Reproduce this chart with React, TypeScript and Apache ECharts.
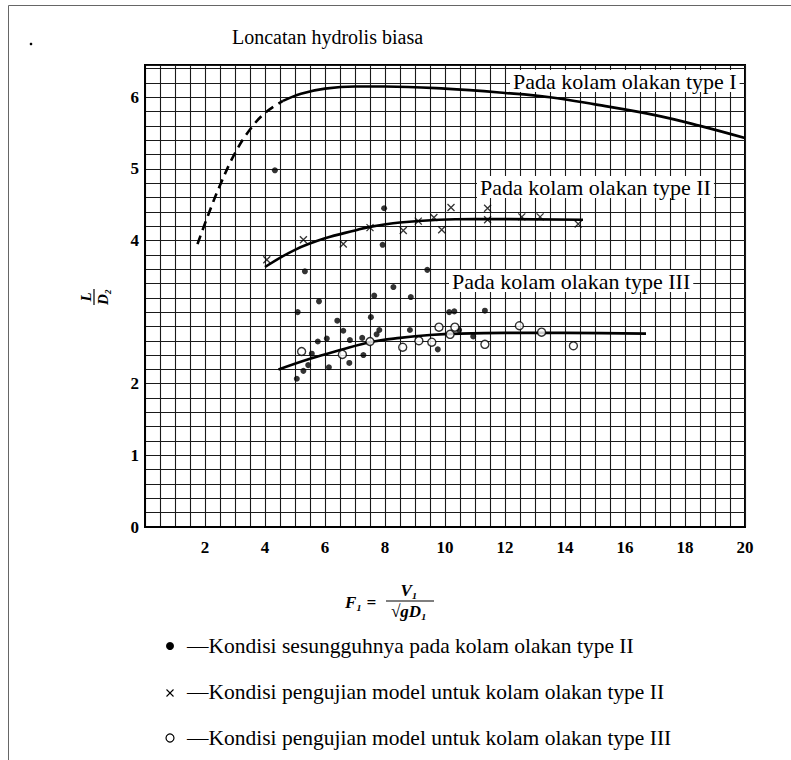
import React, { useEffect, useRef } from "react";
import * as echarts from "echarts";

// ---- data (x = F1, y = L/D2) ----
const typeIDashed: number[][] = [
  [1.75, 3.95], [2.1, 4.35], [2.5, 4.77], [3.0, 5.22], [3.5, 5.55], [4.0, 5.78], [4.6, 5.95],
];
const typeISolid: number[][] = [
  [4.6, 5.95], [5.2, 6.05], [6.0, 6.12], [7.0, 6.15], [8.0, 6.15], [10, 6.12], [12, 6.06],
  [13.5, 6.0], [15, 5.9], [17, 5.75], [18.5, 5.6], [20, 5.43],
];
const typeIICurve: number[][] = [
  [4.0, 3.63], [5, 3.87], [6, 4.03], [7, 4.14], [7.5, 4.19], [8.5, 4.25], [9.8, 4.29],
  [11, 4.3], [14.6, 4.29],
];
const typeIIICurve: number[][] = [
  [4.45, 2.2], [5.5, 2.35], [6.5, 2.47], [7.5, 2.58], [8.5, 2.64], [9.5, 2.68], [10.5, 2.7],
  [12, 2.71], [14, 2.71], [16.7, 2.7],
];
const prototypeDots: number[][] = [
  [4.33, 4.98], [7.97, 4.45], [7.92, 3.94], [5.33, 3.57], [9.41, 3.59], [8.28, 3.35],
  [5.8, 3.15], [7.64, 3.23], [8.86, 3.21], [5.09, 3.0], [10.14, 3.0], [10.31, 3.01],
  [6.41, 2.88], [7.53, 2.93], [6.61, 2.74], [7.81, 2.75], [7.72, 2.69], [8.83, 2.75],
  [6.06, 2.63], [5.76, 2.59], [6.83, 2.61], [7.24, 2.64], [5.56, 2.42], [7.28, 2.4],
  [9.76, 2.48], [10.47, 2.75], [10.94, 2.66], [5.44, 2.26], [6.81, 2.29], [6.13, 2.23],
  [5.28, 2.18], [5.06, 2.07], [11.33, 3.02],
];
const modelII: number[][] = [
  [5.28, 4.01], [4.06, 3.73], [6.61, 3.95], [7.5, 4.18], [8.61, 4.14], [9.11, 4.27],
  [9.63, 4.32], [9.89, 4.15], [10.2, 4.46], [11.42, 4.45], [11.42, 4.29], [12.56, 4.33],
  [13.17, 4.33], [14.44, 4.23],
];
const modelIII: number[][] = [
  [5.22, 2.45], [6.58, 2.41], [7.5, 2.59], [8.59, 2.51], [9.13, 2.6], [9.56, 2.58],
  [9.8, 2.79], [10.17, 2.69], [10.33, 2.79], [11.33, 2.55], [12.48, 2.81], [13.22, 2.72],
  [14.28, 2.53],
];
const xTickLabels = [2, 4, 6, 8, 10, 12, 14, 16, 18, 20];
const yTickLabels = [0, 1, 2, 4, 5, 6];

const titleText = "Loncatan hydrolis biasa";
const curveLabels = [
  "Pada kolam olakan type I",
  "Pada kolam olakan type II",
  "Pada kolam olakan type III",
];
const legendTexts = [
  "—Kondisi sesungguhnya pada kolam olakan type II",
  "—Kondisi pengujian model untuk kolam olakan type II",
  "—Kondisi pengujian model untuk kolam olakan type III",
];

const SERIF = "Liberation Serif";

export default function App() {
  const ref = useRef<HTMLDivElement>(null);
  useEffect(() => {
    if (!ref.current) return;
    const chart = echarts.init(ref.current, undefined, { renderer: "svg" });
    const curveStyle = { color: "#000", width: 2.6 };
    const labelStyle = (t: string) => ({
      text: t,
      fontFamily: SERIF,
      fontSize: 22,
      fill: "#000",
      backgroundColor: "#fff",
      padding: [0, 3, 0, 3],
      verticalAlign: "middle",
    });
    const legendTextStyle = (t: string) => ({
      text: t,
      fontFamily: SERIF,
      fontSize: 21.5,
      fill: "#000",
      verticalAlign: "middle",
    });
    const mathStyle = (t: string, extra: any = {}) => ({
      text: t,
      fontFamily: SERIF,
      fontStyle: "italic",
      fontWeight: "bold",
      fontSize: 17,
      fill: "#000",
      ...extra,
    });
    chart.setOption({
      animation: false,
      backgroundColor: "#fff",
      grid: {
        left: 145,
        right: 46,
        top: 65,
        bottom: 233,
        show: true,
        borderColor: "#000",
        borderWidth: 2,
      },
      xAxis: {
        type: "value",
        min: 0,
        max: 20,
        interval: 0.5,
        axisLine: { show: true, lineStyle: { color: "#000", width: 2 } },
        axisTick: { show: false },
        splitLine: { show: true, lineStyle: { color: "#1a1a1a", width: 1.1 } },
        axisLabel: {
          margin: 12,
          color: "#000",
          fontFamily: SERIF,
          fontWeight: "bold",
          fontSize: 17,
          formatter: (v: number) => (xTickLabels.includes(v) ? String(v) : ""),
        },
      },
      yAxis: {
        type: "value",
        min: 0,
        max: 6.45,
        interval: 0.2,
        axisLine: { show: true, lineStyle: { color: "#000", width: 2 } },
        axisTick: { show: false },
        splitLine: { show: true, lineStyle: { color: "#1a1a1a", width: 1.1 } },
        axisLabel: {
          margin: 6,
          color: "#000",
          fontFamily: SERIF,
          fontWeight: "bold",
          fontSize: 17,
          showMaxLabel: false,
          formatter: (v: number) => {
            const r = Math.round(v);
            return Math.abs(v - r) < 1e-6 && yTickLabels.includes(r) ? String(r) : "";
          },
        },
      },
      series: [
        {
          type: "line",
          data: typeIDashed,
          smooth: 0.4,
          symbol: "none",
          lineStyle: { ...curveStyle, type: [9, 6] },
        },
        { type: "line", data: typeISolid, smooth: 0.4, symbol: "none", lineStyle: curveStyle },
        { type: "line", data: typeIICurve, smooth: 0.4, symbol: "none", lineStyle: curveStyle },
        { type: "line", data: typeIIICurve, smooth: 0.4, symbol: "none", lineStyle: curveStyle },
        {
          type: "scatter",
          data: prototypeDots,
          symbol: "circle",
          symbolSize: 6,
          itemStyle: { color: "#000" },
          z: 5,
        },
        {
          type: "scatter",
          data: modelII,
          symbol: "path://M0,0L10,10M10,0L0,10",
          symbolSize: 7,
          itemStyle: { color: "none", borderColor: "#000", borderWidth: 1.3 },
          z: 5,
        },
        {
          type: "scatter",
          data: modelIII,
          symbol: "circle",
          symbolSize: 8,
          itemStyle: { color: "#fff", borderColor: "#000", borderWidth: 1.4 },
          z: 6,
        },
      ],
      graphic: [
        {
          type: "rect",
          shape: { x: 8.5, y: 5.5, width: 800, height: 800 },
          style: { fill: "none", stroke: "#666", lineWidth: 1 },
          silent: true,
        },
        { type: "circle", shape: { cx: 31, cy: 44, r: 1.3 }, style: { fill: "#000" } },
        {
          type: "text",
          x: 232,
          y: 37,
          style: { text: titleText, fontFamily: SERIF, fontSize: 20, fill: "#000", verticalAlign: "middle" },
        },
        { type: "text", x: 510, y: 81, z: 100, style: labelStyle(curveLabels[0]) },
        { type: "text", x: 477, y: 187, z: 100, style: labelStyle(curveLabels[1]) },
        { type: "text", x: 449, y: 281, z: 100, style: labelStyle(curveLabels[2]) },
        // y axis title L / D2 (rotated fraction)
        {
          type: "group",
          x: 94,
          y: 297,
          rotation: Math.PI / 2,
          children: [
            {
              type: "text",
              x: 0,
              y: -1,
              style: mathStyle("L", { fontSize: 15, align: "center", verticalAlign: "bottom" }),
            },
            {
              type: "line",
              shape: { x1: -8, y1: 0, x2: 8, y2: 0 },
              style: { stroke: "#000", lineWidth: 1.2 },
            },
            {
              type: "text",
              x: 0,
              y: 1,
              style: mathStyle("D₂", { fontSize: 15, align: "center", verticalAlign: "top" }),
            },
          ],
        },
        // x axis title F1 = V1 / sqrt(g D1)
        { type: "text", x: 345, y: 602, style: mathStyle("F₁ =", { verticalAlign: "middle" }) },
        {
          type: "text",
          x: 409,
          y: 599,
          style: mathStyle("V₁", { align: "center", verticalAlign: "bottom" }),
        },
        {
          type: "line",
          shape: { x1: 386, y1: 601, x2: 434, y2: 601 },
          style: { stroke: "#000", lineWidth: 1.2 },
        },
        {
          type: "text",
          x: 409,
          y: 603,
          style: mathStyle("√gD₁", { align: "center", verticalAlign: "top" }),
        },
        // legend
        { type: "circle", shape: { cx: 170, cy: 646, r: 4 }, style: { fill: "#000" } },
        { type: "text", x: 187, y: 646, style: legendTextStyle(legendTexts[0]) },
        {
          type: "polyline",
          shape: { points: [[166.5, 689.5], [173.5, 696.5]] },
          style: { stroke: "#000", lineWidth: 1.1 },
        },
        {
          type: "polyline",
          shape: { points: [[173.5, 689.5], [166.5, 696.5]] },
          style: { stroke: "#000", lineWidth: 1.1 },
        },
        { type: "text", x: 187, y: 692, style: legendTextStyle(legendTexts[1]) },
        {
          type: "circle",
          shape: { cx: 170, cy: 738, r: 4 },
          style: { fill: "#fff", stroke: "#000", lineWidth: 1.2 },
        },
        { type: "text", x: 187, y: 738, style: legendTextStyle(legendTexts[2]) },
      ],
    });
    return () => chart.dispose();
  }, []);
  return (
    <div
      ref={ref}
      style={{ position: "absolute", left: 0, top: 0, width: 791, height: 760, background: "#fff" }}
    />
  );
}
